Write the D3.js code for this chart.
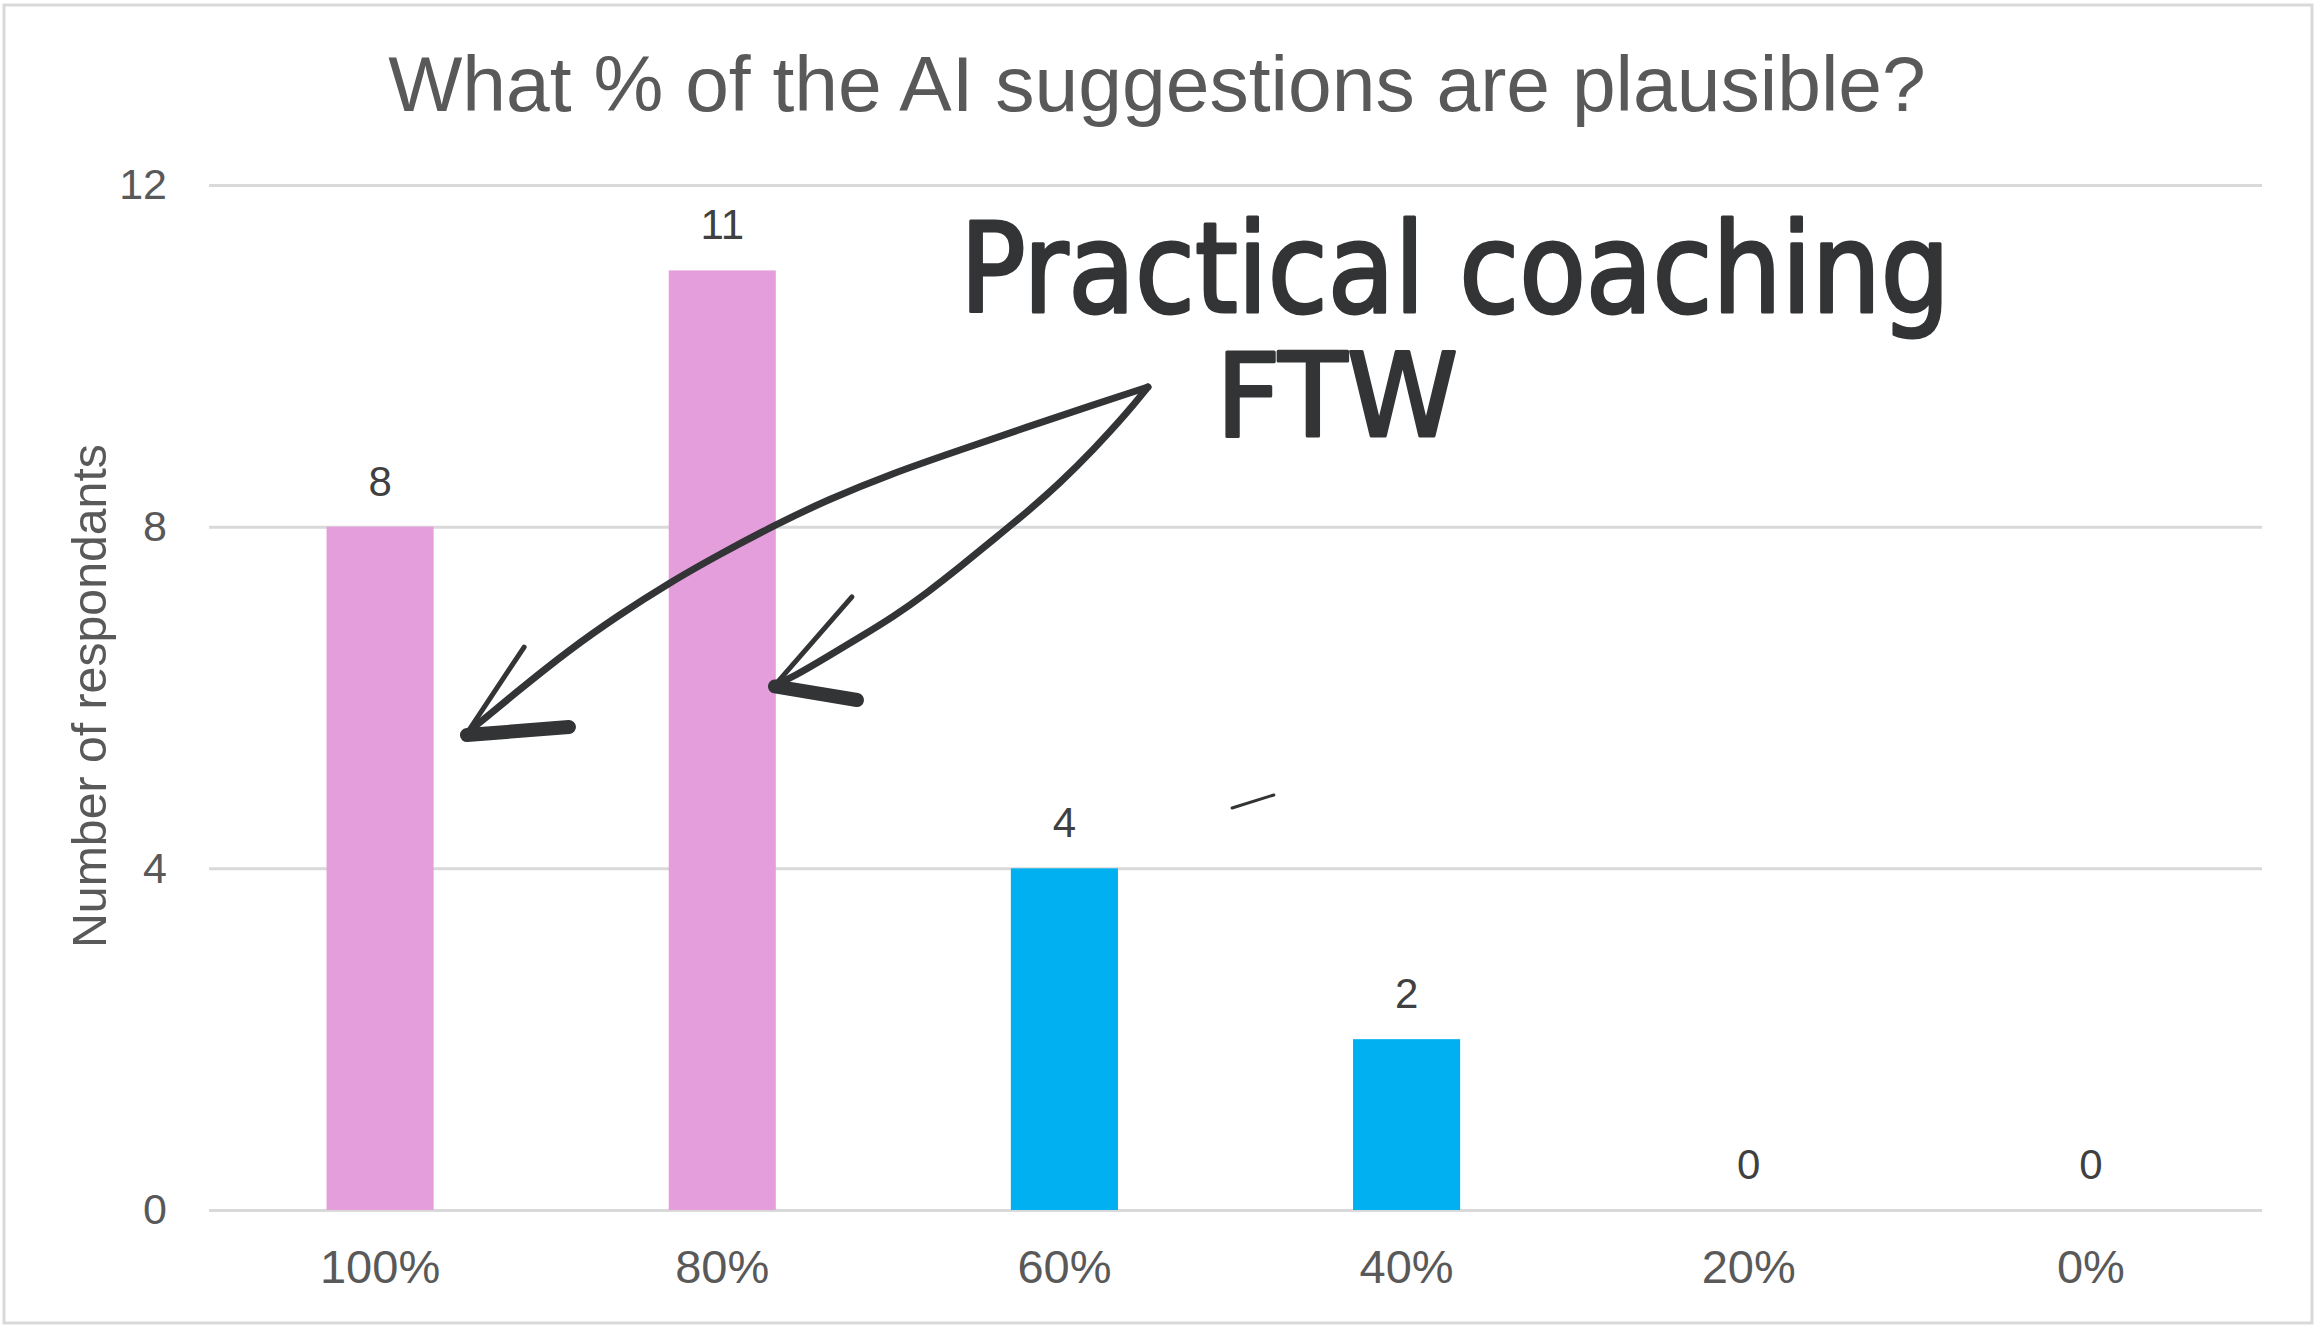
<!DOCTYPE html>
<html><head><meta charset="utf-8">
<script src="https://cdn.jsdelivr.net/npm/d3@7"></script>
<style>body{margin:0;background:#fff}</style>
</head><body>
<svg id="c" width="2323" height="1333"></svg>
<script>
// ---------- data ----------
const categories = ["100%", "80%", "60%", "40%", "20%", "0%"];
const respondents = [8, 11, 4, 2, 0, 0];
const highlighted = ["100%", "80%"];
const yTicks = [0, 4, 8, 12];
const titleText = "What % of the AI suggestions are plausible?";
const yTitleText = "Number of respondants";
const noteLine1 = "Practical coaching";
const noteLine2 = "FTW";
// hand-drawn annotation, in data space: [category index, value]
const arrowLong = [[2.244,9.635],[2.084,9.424],[1.891,9.167],[1.695,8.898],[1.499,8.628],[1.306,8.312],[1.160,8.031],[0.988,7.668],[0.844,7.340],[0.698,6.966],[0.552,6.556],[0.406,6.088],[0.254,5.584]];
const arrowLongHead = [[0.421,6.591],[0.254,5.584]];
const arrowLongBar = [[0.254,5.560],[0.552,5.655]];
const arrowShort = [[2.244,9.635],[2.183,9.331],[2.084,8.898],[1.987,8.511],[1.891,8.172],[1.791,7.844],[1.695,7.528],[1.598,7.223],[1.499,6.942],[1.403,6.708],[1.306,6.474],[1.207,6.240],[1.154,6.146]];
const arrowShortHead = [[1.379,7.177],[1.154,6.146]];
const arrowShortBar = [[1.154,6.130],[1.394,5.971]];
const strayMark = [[2.490,4.706],[2.612,4.859]];

// ---------- layout ----------
const plot = {left: 209, right: 2262, top: 185, bottom: 1210};
const svg = d3.select("#c");
const textCol = "#595959";
const inkCol = "#323436";
const font = "Liberation Sans, Arial, sans-serif";

svg.append("rect").attr("x", 4).attr("y", 5).attr("width", 2308).attr("height", 1318)
  .attr("fill", "#fff").attr("stroke", "#d9d9d9").attr("stroke-width", 3);

const x = d3.scaleBand().domain(categories).range([plot.left, plot.right]).padding(0);
const y = d3.scaleLinear().domain([0, 12]).range([plot.bottom, plot.top]);
const xi = d3.scaleLinear().domain([-0.5, categories.length - 0.5]).range([plot.left, plot.right]);
const color = d3.scaleOrdinal().domain([true, false]).range(["#E49EDB", "#00B0F0"]);
const barW = x.bandwidth() * 0.313;

// gridlines + y ticks
const yAxis = d3.axisLeft(y).tickValues(yTicks).tickSize(-(plot.right - plot.left)).tickPadding(42).tickFormat(d3.format("d"));
const gy = svg.append("g").attr("transform", `translate(${plot.left},0)`).call(yAxis);
gy.select(".domain").remove();
gy.selectAll(".tick line").attr("stroke", "#d9d9d9").attr("stroke-width", 3);
gy.selectAll(".tick text").attr("fill", textCol).attr("font-family", font).attr("font-size", 43);

// bars
const data = categories.map((c, i) => ({c, v: respondents[i]}));
svg.append("g").selectAll("rect").data(data).join("rect")
  .attr("x", d => x(d.c) + (x.bandwidth() - barW) / 2)
  .attr("y", d => y(d.v))
  .attr("width", barW)
  .attr("height", d => y(0) - y(d.v))
  .attr("fill", d => color(highlighted.includes(d.c)));

// value labels
svg.append("g").selectAll("text").data(data).join("text")
  .attr("x", d => x(d.c) + x.bandwidth() / 2)
  .attr("y", d => y(d.v) - 31)
  .attr("text-anchor", "middle")
  .attr("fill", "#404040")
  .attr("font-family", font)
  .attr("font-size", 42)
  .text(d => d.v);

// x axis labels
const xAxis = d3.axisBottom(x).tickSize(0).tickPadding(40);
const gx = svg.append("g").attr("transform", `translate(0,${plot.bottom})`).call(xAxis);
gx.select(".domain").remove();
gx.selectAll(".tick text").attr("fill", textCol).attr("font-family", font).attr("font-size", 47);

function fit(sel, target) {
  const w = sel.node().getComputedTextLength();
  const fs = parseFloat(sel.attr("font-size"));
  sel.attr("font-size", fs * target / w);
}

// title
const t = svg.append("text").attr("x", 1157).attr("y", 111).attr("text-anchor", "middle")
  .attr("fill", textCol).attr("font-family", font).attr("font-size", 75)
  .text(titleText);
fit(t, 1538);

// y title
const yt = svg.append("text").attr("transform", "translate(106,696) rotate(-90)").attr("text-anchor", "middle")
  .attr("fill", textCol).attr("font-family", font).attr("font-size", 48)
  .text(yTitleText);
fit(yt, 504);

// ---------- hand-drawn annotation ----------
const ann = svg.append("g");
const pt = d => [xi(d[0]), y(d[1])];
const curve = d3.line().x(d => pt(d)[0]).y(d => pt(d)[1]).curve(d3.curveBasis);
const straight = d3.line().x(d => pt(d)[0]).y(d => pt(d)[1]);

[[arrowLong, 7], [arrowShort, 7], [arrowLongHead, 5], [arrowShortHead, 5], [arrowLongBar, 14], [arrowShortBar, 14], [strayMark, 3]]
  .forEach(([pts, sw]) => {
    ann.append("path").attr("d", (pts.length > 2 ? curve : straight)(pts))
      .attr("fill", "none").attr("stroke", inkCol).attr("stroke-width", sw)
      .attr("stroke-linecap", "round").attr("stroke-linejoin", "round");
  });

ann.append("text").attr("x", 960).attr("y", 312)
  .attr("fill", inkCol).attr("stroke", inkCol).attr("stroke-width", 3).attr("stroke-linejoin", "round")
  .attr("font-family", "DejaVu Sans Condensed, DejaVu Sans, sans-serif")
  .attr("font-size", 124)
  .attr("textLength", 990).attr("lengthAdjust", "spacingAndGlyphs")
  .text(noteLine1);
ann.append("text").attr("x", 1216).attr("y", 436)
  .attr("fill", inkCol).attr("stroke", inkCol).attr("stroke-width", 3).attr("stroke-linejoin", "round")
  .attr("font-family", "DejaVu Sans Condensed, DejaVu Sans, sans-serif")
  .attr("font-size", 116)
  .attr("textLength", 242).attr("lengthAdjust", "spacingAndGlyphs")
  .text(noteLine2);
</script>
</body></html>
